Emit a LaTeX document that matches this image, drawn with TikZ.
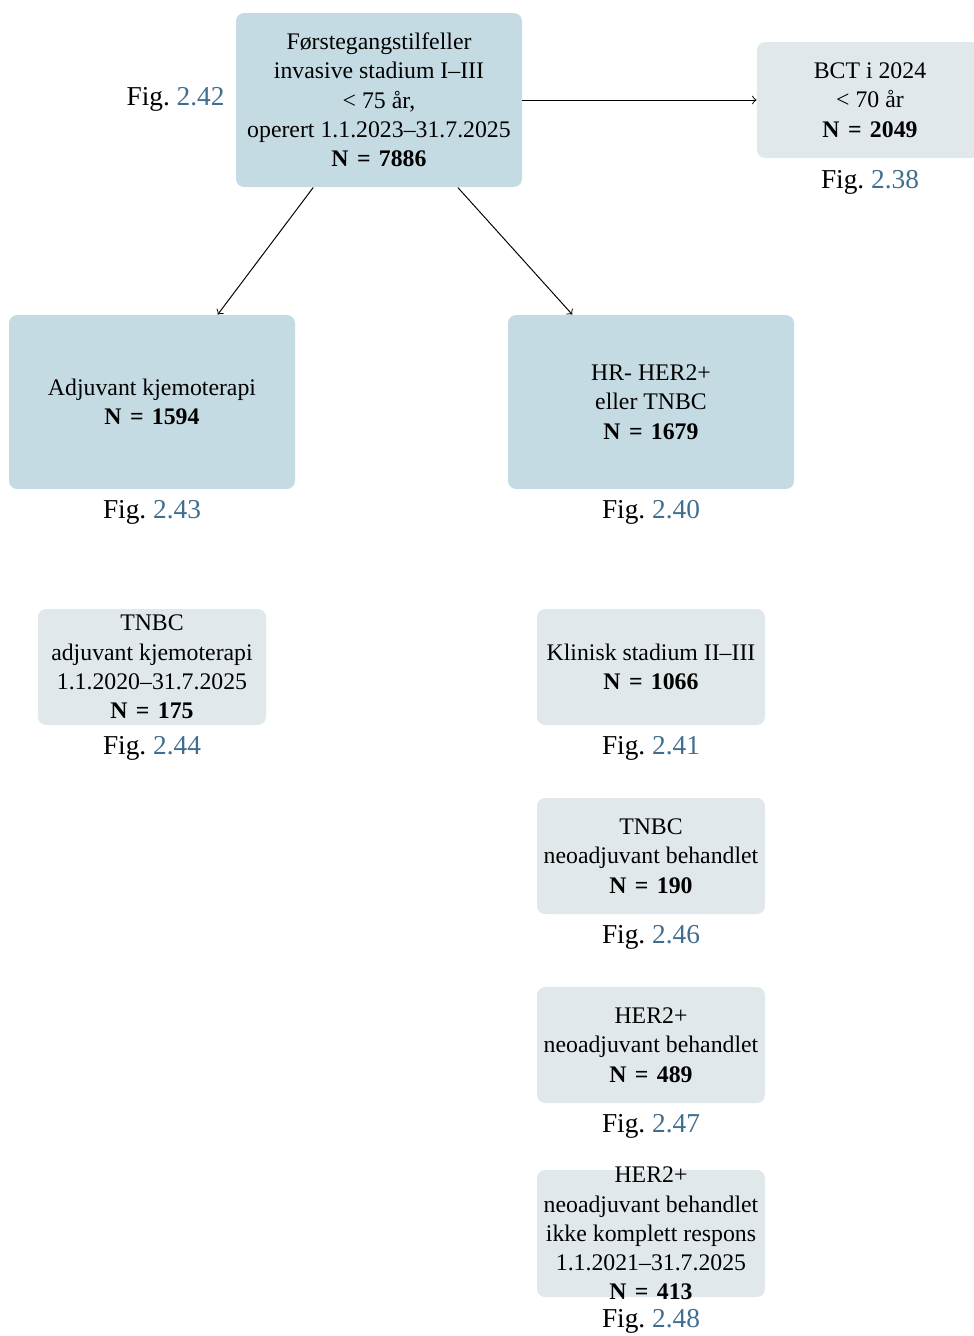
\documentclass[tikz,border=0pt]{standalone}
\usepackage{fontspec}
\setmainfont{Liberation Serif}
\definecolor{darkbox}{HTML}{C5DBE3}
\definecolor{lightbox}{HTML}{E1E8EC}
\definecolor{figblue}{HTML}{3F6E8F}
\newcommand{\nval}[1]{\textbf{N\kern1pt{} =\kern1pt{} #1}}
\newcommand{\figref}[1]{Fig.\ \textcolor{figblue}{#1}}
\begin{document}
\begin{tikzpicture}[x=0.41pt,y=-0.41pt,
  box/.style={rounded corners=3.3pt, inner sep=0pt, align=center, font=\fontsize{9.75}{12}\selectfont},
  bigbox/.style={box, fill=darkbox, minimum width=117.26pt, minimum height=71.34pt},
  smallbox/.style={box, fill=lightbox, minimum width=93.48pt, minimum height=47.56pt},
  figlbl/.style={font=\fontsize{11.2}{13}\selectfont, inner sep=0pt, anchor=base},
  arr/.style={->, line width=0.4pt}]
\useasboundingbox (0,0) rectangle (974,1336);
\node[bigbox] (top) at (379,100) {Førstegangstilfeller\\invasive stadium I–III\\< 75 år,\\operert 1.1.2023–31.7.2025\\\nval{7886}};
\node[figlbl, anchor=base east] (f42) at (225,105) {\figref{2.42}};
\node[smallbox, minimum width=92.66pt] (bct) at (870,100) {BCT i 2024\\< 70 år\\\nval{2049}};
\node[figlbl] (f38) at (870,188) {\figref{2.38}};
\node[bigbox] (adj) at (152,402) {Adjuvant kjemoterapi\\\nval{1594}};
\node[figlbl] (f43) at (152,518) {\figref{2.43}};
\node[bigbox] (hr) at (651,402) {HR- HER2+\\eller TNBC\\\nval{1679}};
\node[figlbl] (f40) at (651,518) {\figref{2.40}};
\node[smallbox] (tnbcadj) at (152,667) {TNBC\\adjuvant kjemoterapi\\1.1.2020–31.7.2025\\\nval{175}};
\node[figlbl] (f44) at (152,754) {\figref{2.44}};
\node[smallbox] (klin) at (651,667) {Klinisk stadium II–III\\\nval{1066}};
\node[figlbl] (f41) at (651,754) {\figref{2.41}};
\node[smallbox] (tnbcneo) at (651,856) {TNBC\\neoadjuvant behandlet\\\nval{190}};
\node[figlbl] (f46) at (651,943) {\figref{2.46}};
\node[smallbox] (herneo) at (651,1045) {HER2+\\neoadjuvant behandlet\\\nval{489}};
\node[figlbl] (f47) at (651,1132) {\figref{2.47}};
\node[smallbox, minimum height=52.07pt] (b48) at (651,1233.5) {};
\node[box] (t48) at (b48.center) {HER2+\\neoadjuvant behandlet\\ikke komplett respons\\1.1.2021–31.7.2025\\\nval{413}};
\node[figlbl] (f48) at (651,1327) {\figref{2.48}};
\draw[arr] (top) -- (bct);
\draw[arr] (top) -- (adj);
\draw[arr] (top) -- (hr);
\end{tikzpicture}
\end{document}
